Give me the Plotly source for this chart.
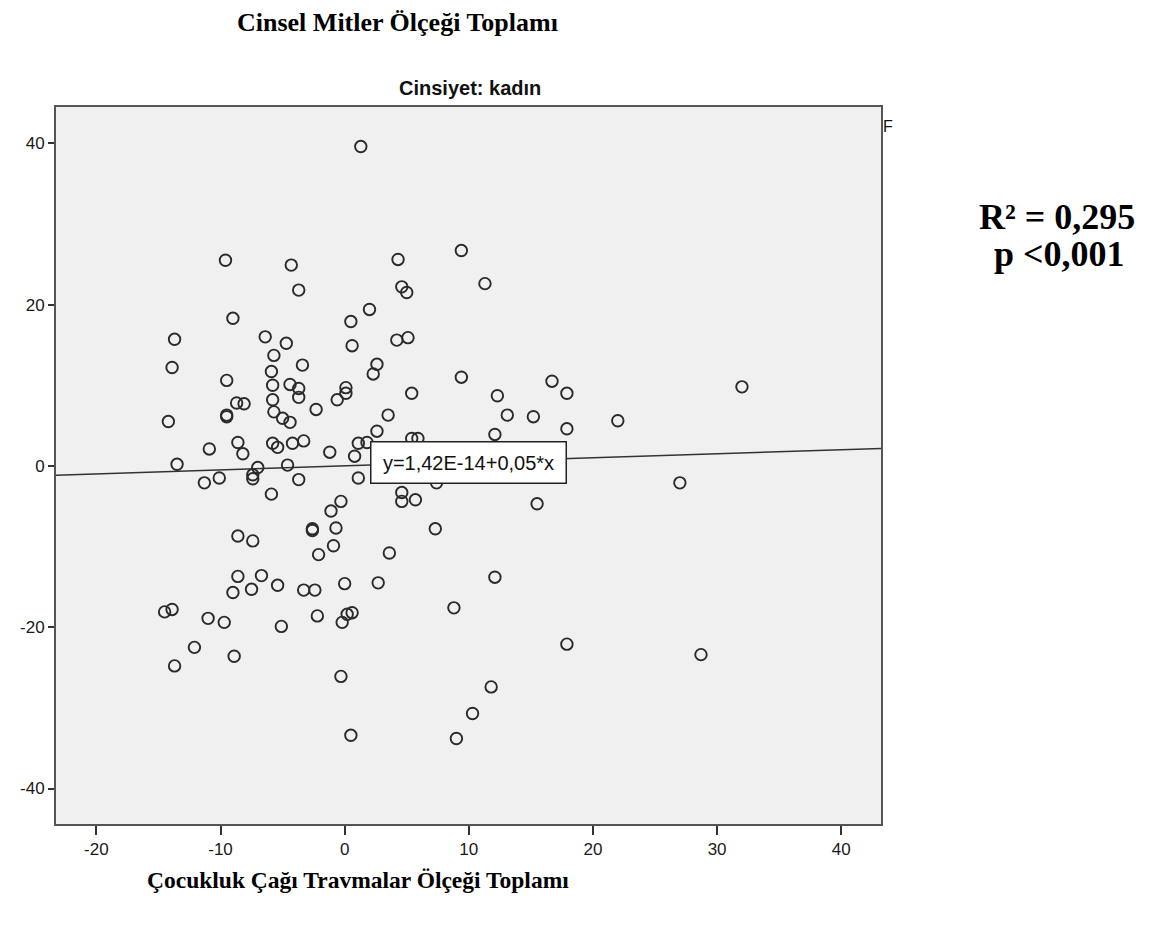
import plotly.graph_objects as go

# Data
x_vals = [1.3, -9.6, -4.3, -3.7, 4.3, 4.6, 5.0, 9.4, -9.0, 2.0,
          0.5, -13.7, -6.4, -4.7, 0.6, 4.2, 5.1, -5.7, -3.4, -13.9,
          2.6, 2.3, 9.4, -5.9, -9.5, -5.8, -4.4, -3.7, -3.7, 0.1,
          0.1, -0.6, 5.4, -5.8, -8.7, -8.1, -2.3, -5.7, -9.5, -9.5,
          -5.0, -4.4, -14.2, 3.5, 2.6, -10.9, -8.6, -8.2, -5.8, -5.4,
          -4.2, -3.3, -1.2, 1.1, 1.8, 0.8, 5.4, 5.9, -13.5, -7.0,
          -4.6, 11.3, 12.3, 13.1, 15.2, 16.7, 17.9, 17.9, 22.0, 32.0,
          12.1, -7.4, -7.4, -11.3, -10.1, -3.7, -5.9, 1.1, 4.6, 4.6,
          5.7, 7.4, -0.3, -1.1, -0.7, -2.6, -2.6, 7.3, -8.6, -7.4,
          -0.9, -2.1, 3.6, -8.6, -6.7, -9.0, -7.5, -5.4, -3.3, -2.4,
          0.0, 2.7, 8.8, -14.5, -13.9, -11.0, -9.7, -5.1, -2.2, -0.2,
          0.2, 0.6, -12.1, -13.7, -8.9, -0.3, 0.5, 9.0, 15.5, 27.0,
          12.1, 17.9, 28.7, 11.8, 10.3]
y_vals = [39.6, 25.5, 24.9, 21.8, 25.6, 22.2, 21.5, 26.7, 18.3, 19.4,
          17.9, 15.7, 16.0, 15.2, 14.9, 15.6, 15.9, 13.7, 12.5, 12.2,
          12.6, 11.4, 11.0, 11.7, 10.6, 10.0, 10.1, 9.6, 8.5, 9.7,
          9.0, 8.2, 9.0, 8.2, 7.8, 7.7, 7.0, 6.7, 6.3, 6.1,
          5.9, 5.4, 5.5, 6.3, 4.3, 2.1, 2.9, 1.5, 2.8, 2.3,
          2.8, 3.1, 1.7, 2.8, 2.9, 1.2, 3.4, 3.4, 0.2, -0.2,
          0.1, 22.6, 8.7, 6.3, 6.1, 10.5, 9.0, 4.6, 5.6, 9.8,
          3.9, -1.1, -1.6, -2.1, -1.5, -1.7, -3.5, -1.5, -3.3, -4.4,
          -4.2, -2.1, -4.4, -5.6, -7.7, -7.8, -8.0, -7.8, -8.7, -9.3,
          -9.9, -11.0, -10.8, -13.7, -13.6, -15.7, -15.3, -14.8, -15.4, -15.4,
          -14.6, -14.5, -17.6, -18.1, -17.8, -18.9, -19.4, -19.9, -18.6, -19.4,
          -18.4, -18.2, -22.5, -24.8, -23.6, -26.1, -33.4, -33.8, -4.7, -2.1,
          -13.8, -22.1, -23.4, -27.4, -30.7]

fit_intercept = 1.42e-14
fit_slope = 0.05
fit_label = "y=1,42E-14+0,05*x"

x_ticks = [-20, -10, 0, 10, 20, 30, 40]
x_tick_labels = ["-20", "-10", "0", "10", "20", "30", "40"]
y_ticks = [-40, -20, 0, 20, 40]
y_tick_labels = ["-40", "-20", "0", "20", "40"]
x_range = [-23.25, 43.2]
y_range = [-44.4, 44.5]

panel_title = "Cinsiyet: kadın"
y_title = "Cinsel Mitler Ölçeği Toplamı"
x_title = "Çocukluk Çağı Travmalar Ölçeği Toplamı"
stat_lines = ["R² = 0,295", "p <0,001"]

W, H = 1159, 930
OFF = 8  # page body margin
L, R, T, B = 52, 881, 107, 824


def px(xp):
    return (xp - L) / (R - L)


def py(yp):
    return (B - yp) / (B - T)


fig = go.Figure()

line_x = [x_range[0], x_range[1]]
line_y = [fit_intercept + fit_slope * v for v in line_x]
fig.add_trace(go.Scatter(x=line_x, y=line_y, mode="lines",
                         line=dict(color="#333333", width=1.5),
                         hoverinfo="skip", showlegend=False))

fig.add_trace(go.Scatter(x=x_vals, y=y_vals, mode="markers",
                         marker=dict(symbol="circle-open", size=11.5,
                                     color="#2a2a2a",
                                     line=dict(width=1.9, color="#2a2a2a")),
                         showlegend=False))

axis_common = dict(showgrid=False, zeroline=False, showline=True,
                   linecolor="#555555", linewidth=2, mirror=True,
                   ticks="outside", tickcolor="#333333", tickwidth=2,
                   tickfont=dict(family="Liberation Sans Narrow, Liberation Sans, Arial",
                                 size=17, color="#1a1a1a"))

fig.update_xaxes(range=x_range, tickvals=x_ticks, ticktext=x_tick_labels,
                 ticklen=9, **axis_common)
fig.update_yaxes(range=y_range, tickvals=y_ticks, ticktext=y_tick_labels,
                 ticklen=6, **axis_common)

serif = "Liberation Serif, Times New Roman"
annotations = [
    dict(x=10.0, y=0.45, xref="x", yref="y", text=fit_label, showarrow=False,
         font=dict(family="Liberation Sans, Arial", size=20, color="#111111"),
         bgcolor="white", bordercolor="#222222", borderwidth=1.5,
         borderpad=3, width=188, height=34),
    dict(x=px(468), y=py(88), xref="paper", yref="paper", text="<b>" + panel_title + "</b>",
         showarrow=False, xanchor="center", yanchor="middle",
         font=dict(family="Liberation Sans Narrow, Liberation Sans, Arial", size=20, color="#111111")),
    dict(x=px(395), y=py(23), xref="paper", yref="paper", text="<b>" + y_title + "</b>",
         showarrow=False, xanchor="center", yanchor="middle",
         font=dict(family=serif, size=26, color="black")),
    dict(x=px(355), y=py(880), xref="paper", yref="paper", text="<b>" + x_title + "</b>",
         showarrow=False, xanchor="center", yanchor="middle",
         font=dict(family=serif, size=23.5, color="black")),
    dict(x=px(1058), y=py(217), xref="paper", yref="paper", text="<b>" + stat_lines[0] + "</b>",
         showarrow=False, xanchor="center", yanchor="middle",
         font=dict(family=serif, size=36, color="black")),
    dict(x=px(1060), y=py(254), xref="paper", yref="paper", text="<b>" + stat_lines[1] + "</b>",
         showarrow=False, xanchor="center", yanchor="middle",
         font=dict(family=serif, size=36, color="black")),
    dict(x=px(881), y=py(127), xref="paper", yref="paper", text="F",
         showarrow=False, xanchor="left", yanchor="middle",
         font=dict(family="Liberation Sans, Arial", size=16, color="#111111")),
]

fig.update_layout(width=W - OFF, height=H - OFF,
                  margin=dict(l=L - OFF, r=W - R, t=T - OFF, b=H - B, pad=0),
                  paper_bgcolor="white", plot_bgcolor="#f0f0f0",
                  annotations=annotations, showlegend=False)

fig.write_html("out.html")
